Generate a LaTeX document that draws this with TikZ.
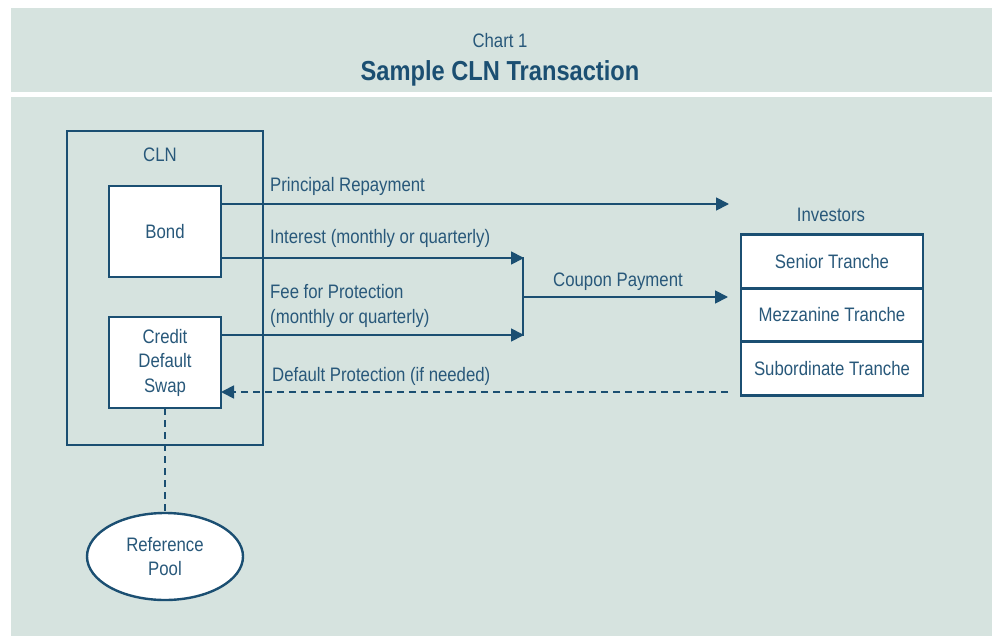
\documentclass[tikz,border=0pt]{standalone}
\usepackage{fontspec}
\setmainfont[FakeStretch=0.86]{Liberation Sans}
\usetikzlibrary{arrows.meta,shapes.geometric,positioning}
\definecolor{panelgrey}{RGB}{214,227,223}
\definecolor{clnblue}{RGB}{27,79,114}
\definecolor{textblue}{RGB}{40,88,122}
\tikzset{
  box/.style={draw=clnblue, line width=2.6pt, fill=white, inner sep=0pt, outer sep=0pt, text=textblue, align=center, font=\fontsize{19.5}{24.5}\selectfont},
  lbl/.style={anchor=west, inner sep=0pt, text=textblue, align=left, font=\fontsize{19.5}{24.5}\selectfont},
  flow/.style={draw=clnblue, line width=1.8pt, -{Triangle[length=13pt,width=13pt]}},
  dashflow/.style={flow, dash pattern=on 7pt off 5pt}
}
\begin{document}
\begin{tikzpicture}[x=1pt,y=-1pt]
\useasboundingbox (0,0) rectangle (992,636);
% Backgrounds
\fill[panelgrey] (11,8) rectangle (992,92);
\fill[panelgrey] (11,97) rectangle (992,636);

% Title
\node[text=textblue, font=\fontsize{19.5}{22}\selectfont] (chart) at (500,41) {Chart 1};
\node[text=clnblue, font=\fontsize{27.5}{30}\selectfont\bfseries] (title) at (500,73) {Sample CLN Transaction};

% CLN and its parts
\node[box, fill=none, minimum width=196pt, minimum height=314pt] (cln) at (165,288) {};
\node[lbl, anchor=center] (clnlbl) at (160,155) {CLN};
\node[box, minimum width=112pt, minimum height=91pt] (bond) at (165,231.5) {Bond};
\node[box, minimum width=112pt, minimum height=91pt] (cds) at (165,362.5) {Credit\\Default\\Swap};
\node[box, ellipse, minimum width=156pt, minimum height=87pt, line width=2.4pt] (pool) at (165,556.5) {Reference\\Pool};

% Investors
\node[lbl, anchor=center] (invlbl) at (831,215) {Investors};
\node[box, minimum width=182pt, minimum height=53.5pt] (senior) at (832,261.5) {Senior Tranche};
\node[box, minimum width=182pt, minimum height=53.5pt, anchor=north] (mezz) at (senior.south) {Mezzanine Tranche};
\node[box, minimum width=182pt, minimum height=53.5pt, anchor=north] (sub) at (mezz.south) {Subordinate Tranche};

% Flow points
\coordinate (prinend) at (729,204);
\coordinate (intend) at (524,258);
\coordinate (feeend) at (524,335);
\coordinate (cpnstart) at (523,297);
\coordinate (cpnend) at (728,297);
\coordinate (protstart) at (728,392);

% Arrows
\draw[flow] (bond.east |- prinend) -- (prinend);
\draw[flow] (bond.east |- intend) -- (intend);
\draw[flow] (cds.east |- feeend) -- (feeend);
\draw[draw=clnblue, line width=1.8pt] (523,257) -- (523,336);
\draw[flow] (cpnstart) -- (cpnend);
\draw[dashflow] (protstart) -- (cds.east |- protstart);
\draw[draw=clnblue, line width=1.8pt, dash pattern=on 7pt off 5pt] (cds.south) -- (pool.north);

% Labels
\node[lbl] (prinlbl) at (270,186) {Principal Repayment};
\node[lbl] (intlbl) at (270,238) {Interest (monthly or quarterly)};
\node[lbl] (feelbl) at (270,306) {Fee for Protection\\(monthly or quarterly)};
\node[lbl, anchor=center] (cpnlbl) at (618,282) {Coupon Payment};
\node[lbl] (protlbl) at (272,376) {Default Protection (if needed)};
\end{tikzpicture}
\end{document}
